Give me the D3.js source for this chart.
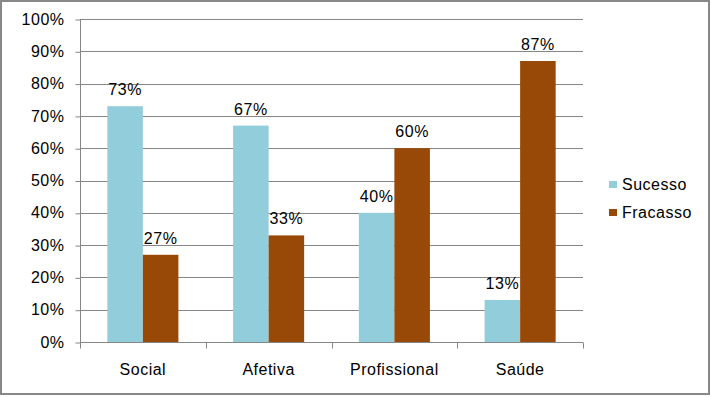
<!DOCTYPE html>
<html lang="pt">
<meta charset="utf-8">
<head>
<style>
	body { margin: 0; background: #fff; }
	svg text { font-family: "Liberation Sans", Arial, sans-serif; fill: #000; letter-spacing: 0.5px; }
</style>
</head>
<body>
<div id="chart"></div>
<script src="https://cdn.jsdelivr.net/npm/d3@7"></script>
<script>
	const categories = ["Social", "Afetiva", "Profissional", "Saúde"];
	const seriesNames = ["Sucesso", "Fracasso"];
	const sucesso = [73, 67, 40, 13];
	const fracasso = [27, 33, 60, 87];
	const yTicks = [0, 10, 20, 30, 40, 50, 60, 70, 80, 90, 100];
	const colors = ["#92cddc", "#984807"];

	const width = 711, height = 397;
	const plot = { left: 80, right: 583, top: 19, bottom: 342 };

	const svg = d3.select("#chart").append("svg")
		.attr("width", width)
		.attr("height", height);

	// outer frame
	svg.append("rect")
		.attr("x", 1).attr("y", 1)
		.attr("width", width - 3).attr("height", height - 4)
		.attr("fill", "#fff")
		.attr("stroke", "#888").attr("stroke-width", 2);

	const x0 = d3.scaleBand()
		.domain(categories)
		.range([plot.left, plot.right]);

	const x1 = d3.scaleBand()
		.domain(seriesNames)
		.range([0, x0.bandwidth()])
		.paddingOuter(0.77);

	const y = d3.scaleLinear()
		.domain([0, 100])
		.range([plot.bottom, plot.top]);

	// gridlines
	svg.append("g")
		.selectAll("line")
		.data(yTicks.slice(1))
		.join("line")
		.attr("x1", plot.left).attr("x2", plot.right)
		.attr("y1", d => Math.round(y(d)) + 0.5)
		.attr("y2", d => Math.round(y(d)) + 0.5)
		.attr("stroke", "#868686");

	// y axis
	const yAxis = svg.append("g")
		.attr("transform", `translate(${plot.left + 0.5},0)`)
		.call(d3.axisLeft(y).tickValues(yTicks).tickFormat(d => d + "%").tickSize(5).tickPadding(11));
	yAxis.selectAll("path, line").attr("stroke", "#868686");
	yAxis.select(".domain").attr("d", `M0,${plot.top}V${plot.bottom}`);
	yAxis.selectAll(".tick line").attr("transform", "translate(0,0.5)");
	yAxis.selectAll("text").attr("font-size", 16).attr("fill", "#000")
		.attr("font-family", "Liberation Sans, Arial, sans-serif");

	// bars
	const data = categories.map((c, i) => ({ cat: c, vals: [sucesso[i], fracasso[i]] }));
	const groups = svg.append("g")
		.selectAll("g")
		.data(data)
		.join("g")
		.attr("transform", d => `translate(${x0(d.cat)},0)`);

	groups.selectAll("rect")
		.data(d => d.vals.map((v, j) => ({ s: seriesNames[j], v, j })))
		.join("rect")
		.attr("x", d => x1(d.s))
		.attr("y", d => y(d.v))
		.attr("width", x1.bandwidth())
		.attr("height", d => y(0) - y(d.v))
		.attr("fill", d => colors[d.j]);

	groups.selectAll("text")
		.data(d => d.vals.map((v, j) => ({ s: seriesNames[j], v })))
		.join("text")
		.attr("x", d => x1(d.s) + x1.bandwidth() / 2)
		.attr("y", d => y(d.v) - 11)
		.attr("text-anchor", "middle")
		.attr("font-size", 16)
		.text(d => d.v + "%");

	// x axis
	const xAxisG = svg.append("g")
		.attr("transform", `translate(0,${plot.bottom + 0.5})`);
	xAxisG.append("line")
		.attr("x1", plot.left).attr("x2", plot.right)
		.attr("stroke", "#868686");
	xAxisG.selectAll(".tk")
		.data(categories.map(c => x0(c)).concat([plot.right]))
		.join("line")
		.attr("class", "tk")
		.attr("x1", d => Math.round(d) + 0.5).attr("x2", d => Math.round(d) + 0.5)
		.attr("y1", 0).attr("y2", 6)
		.attr("stroke", "#868686");
	xAxisG.selectAll("text")
		.data(categories)
		.join("text")
		.attr("x", d => x0(d) + x0.bandwidth() / 2)
		.attr("y", 32)
		.attr("text-anchor", "middle")
		.attr("font-size", 16)
		.text(d => d);

	// legend
	const legend = svg.append("g").attr("transform", "translate(609,181)");
	const items = legend.selectAll("g")
		.data(seriesNames)
		.join("g")
		.attr("transform", (d, i) => `translate(0,${i * 28})`);
	items.append("rect")
		.attr("width", 8).attr("height", 7)
		.attr("fill", (d, i) => colors[i]);
	items.append("text")
		.attr("x", 13).attr("y", 9)
		.attr("font-size", 16)
		.text(d => d);
</script>
</body>
</html>
